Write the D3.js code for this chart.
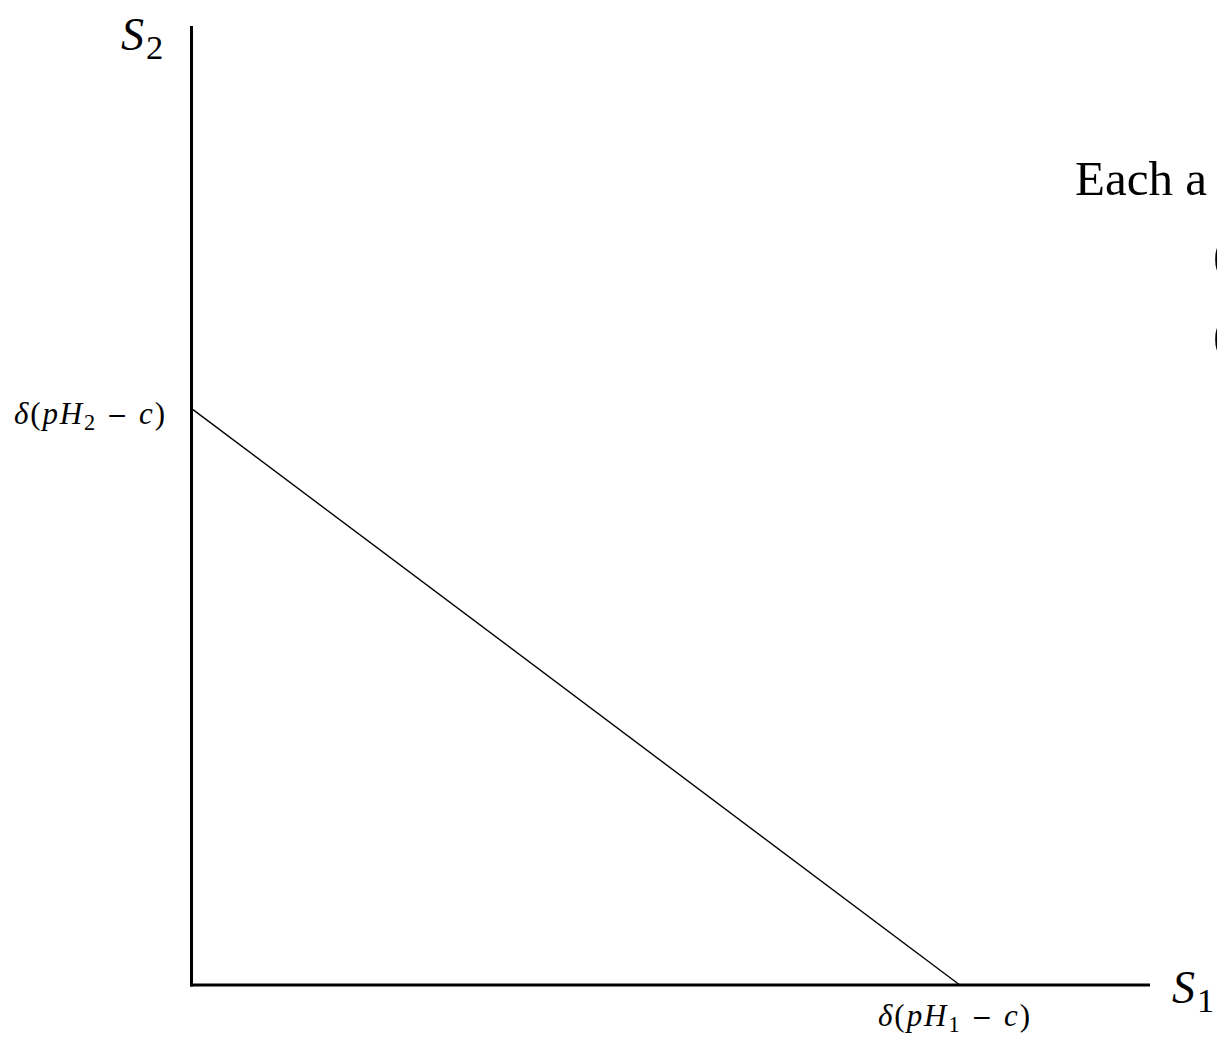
<!DOCTYPE html>
<html>
<head>
<meta charset="utf-8">
<script src="https://cdn.jsdelivr.net/npm/d3@7"></script>
<style>
  html, body { margin: 0; padding: 0; background: #fff; overflow: hidden; }
  svg { display: block; }
</style>
</head>
<body>
<svg id="chart" width="1217" height="1037"></svg>
<script>
// Payoff frontier: S1 + S2 trade off linearly between the two intercepts
const axisNames = ["S", "S"];
const axisSubs = ["1", "2"];
const intercepts = [0.8, 0.6];          // S1 intercept, S2 intercept (axis fraction)
const interceptSubs = ["1", "2"];       // H subscript for each intercept label
const frontier = [[0, 0.6], [0.8, 0]];  // (S1, S2) endpoints
const sideLines = ["Each a", "(", "("];

const svg = d3.select("#chart");
const W = 1217, H = 1037;
const margin = { left: 191.5, right: 67, top: 26, bottom: 52 };

const x = d3.scaleLinear().domain([0, 1]).range([margin.left, W - margin.right]);
const y = d3.scaleLinear().domain([0, 1]).range([H - margin.bottom, margin.top]);

const mathFont = "'Liberation Serif', 'Times New Roman', serif";

// Axes
svg.append("line")
  .attr("x1", x(0)).attr("x2", x(0))
  .attr("y1", y(0) + 1.5).attr("y2", y(1))
  .attr("stroke", "#000").attr("stroke-width", 3);
svg.append("line")
  .attr("x1", x(0) - 1.5).attr("x2", x(1))
  .attr("y1", y(0)).attr("y2", y(0))
  .attr("stroke", "#000").attr("stroke-width", 3);

// Frontier
svg.append("path")
  .datum(frontier)
  .attr("d", d3.line().x(d => x(d[0]) + 1.5).y(d => y(d[1])))
  .attr("fill", "none").attr("stroke", "#000").attr("stroke-width", 1.4);

// Rich math label: δ(pH_k − c)
function mathLabel(g, sub, size) {
  const t = g.append("text")
    .attr("font-family", mathFont).attr("font-size", size).attr("fill", "#000");
  t.append("tspan").attr("font-style", "italic").text("δ");
  t.append("tspan").text("(");
  t.append("tspan").attr("font-style", "italic").text("pH");
  t.append("tspan").attr("font-size", size * 0.72).attr("dy", size * 0.2).text(sub);
  t.append("tspan").attr("dy", -size * 0.2).attr("font-family", "'DejaVu Serif', serif")
    .attr("font-size", size * 0.8).text(" − ");
  t.append("tspan").attr("font-style", "italic").text("c");
  t.append("tspan").text(")");
  return t;
}

// Intercept labels
mathLabel(svg.append("g").attr("transform", `translate(14, ${y(intercepts[1]) + 14})`),
  interceptSubs[1], 31)
  .attr("textLength", 151).attr("lengthAdjust", "spacing");
mathLabel(svg.append("g").attr("transform", `translate(878, ${y(0) + 41})`),
  interceptSubs[0], 31)
  .attr("textLength", 152).attr("lengthAdjust", "spacing");

// Axis names
function axisName(px, py, name, sub, size) {
  const t = svg.append("text").attr("x", px).attr("y", py)
    .attr("font-family", mathFont).attr("font-size", size).attr("fill", "#000");
  t.append("tspan").attr("font-style", "italic").text(name);
  t.append("tspan").attr("font-size", size * 0.75).attr("dy", size * 0.2).attr("dx", 2).text(sub);
}
axisName(121, 50, axisNames[1], axisSubs[1], 46);
axisName(1172, 1003, axisNames[0], axisSubs[0], 46);

// Side text block (runs past the right edge)
const side = svg.append("g").attr("font-family", "'Liberation Serif', serif")
  .attr("font-size", 49).attr("fill", "#000");
side.append("text").attr("x", 1075).attr("y", 195).text(sideLines[0]);
side.append("text").attr("x", 1213).attr("y", 271).text(sideLines[1]);
side.append("text").attr("x", 1213).attr("y", 351).text(sideLines[2]);
</script>
</body>
</html>
